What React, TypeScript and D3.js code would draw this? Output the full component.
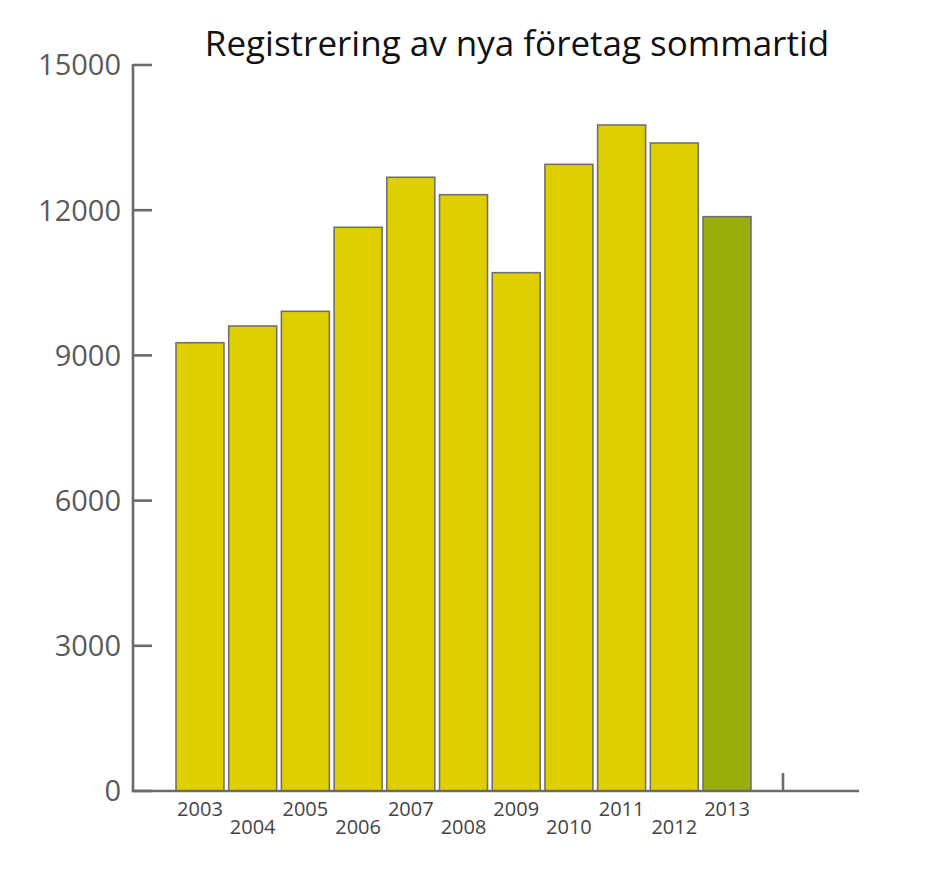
import { useEffect, useRef } from 'react';
import * as d3 from 'd3';

// Data
const years = ['2003', '2004', '2005', '2006', '2007', '2008', '2009', '2010', '2011', '2012', '2013'];
const registrations = [9262, 9607, 9911, 11647, 12680, 12320, 10709, 12948, 13760, 13388, 11866];
const yTicks = [0, 3000, 6000, 9000, 12000, 15000];
const highlightYear = '2013';

const WIDTH = 940;
const HEIGHT = 869;

export default function App() {
  const svgRef = useRef<SVGSVGElement>(null);

  useEffect(() => {
    if (!svgRef.current) return;
    const svg = d3.select(svgRef.current);
    svg.selectAll('*').remove();

    const font = '"Open Sans", "Noto Sans", sans-serif';
    const axisColor = '#6b6b6b';

    const yScale = d3.scaleLinear().domain([0, 15000]).range([791, 65]);
    const xScale = d3.scaleBand<string>()
      .domain(years)
      .range([176, 751])
      .paddingInner(0.09)
      .paddingOuter(0);

    const axisLeft = 133;
    const axisRight = 859;

    // Title
    svg.append('text')
      .attr('x', 517)
      .attr('y', 56)
      .attr('text-anchor', 'middle')
      .attr('font-family', font)
      .attr('font-size', '35px')
      .attr('fill', '#111')
      .text('Registrering av nya företag sommartid');

    // Bars
    svg.selectAll('rect.bar')
      .data(years)
      .join('rect')
      .attr('class', 'bar')
      .attr('x', d => xScale(d) || 0)
      .attr('y', (d, i) => yScale(registrations[i]))
      .attr('width', xScale.bandwidth())
      .attr('height', (d, i) => yScale(0) - yScale(registrations[i]))
      .attr('fill', d => (d === highlightYear ? '#9aae0b' : '#e0cf00'))
      .attr('stroke', '#707070')
      .attr('stroke-width', 1.6);

    // Y axis
    const yAxis = svg.append('g');
    yAxis.append('line')
      .attr('x1', axisLeft).attr('x2', axisLeft)
      .attr('y1', yScale(15000) - 1).attr('y2', yScale(0))
      .attr('stroke', axisColor)
      .attr('stroke-width', 2.6);
    yAxis.selectAll('line.tick')
      .data(yTicks)
      .join('line')
      .attr('class', 'tick')
      .attr('x1', axisLeft).attr('x2', axisLeft + 19)
      .attr('y1', d => yScale(d)).attr('y2', d => yScale(d))
      .attr('stroke', axisColor)
      .attr('stroke-width', 2.6);
    yAxis.selectAll('text')
      .data(yTicks)
      .join('text')
      .attr('x', 121)
      .attr('y', d => yScale(d))
      .attr('dy', '0.36em')
      .attr('text-anchor', 'end')
      .attr('font-family', font)
      .attr('font-size', '29px')
      .attr('fill', '#5a5a5a')
      .text(d => d);

    // X axis
    svg.append('line')
      .attr('x1', axisLeft - 1.3).attr('x2', axisRight)
      .attr('y1', yScale(0)).attr('y2', yScale(0))
      .attr('stroke', axisColor)
      .attr('stroke-width', 2.6);
    const endTick = (xScale.range()[1] as number) + 32;
    svg.append('line')
      .attr('x1', endTick).attr('x2', endTick)
      .attr('y1', yScale(0) - 18).attr('y2', yScale(0))
      .attr('stroke', axisColor)
      .attr('stroke-width', 2.6);

    // Year labels, staggered
    svg.selectAll('text.year')
      .data(years)
      .join('text')
      .attr('class', 'year')
      .attr('x', d => (xScale(d) || 0) + xScale.bandwidth() / 2)
      .attr('y', (d, i) => (i % 2 === 0 ? 816 : 834))
      .attr('text-anchor', 'middle')
      .attr('font-family', font)
      .attr('font-size', '20px')
      .attr('fill', '#444')
      .text(d => d);
  }, []);

  return (
    <svg
      ref={svgRef}
      width={WIDTH}
      height={HEIGHT}
      style={{ position: 'absolute', top: 0, left: 0, background: '#fff' }}
    />
  );
}
